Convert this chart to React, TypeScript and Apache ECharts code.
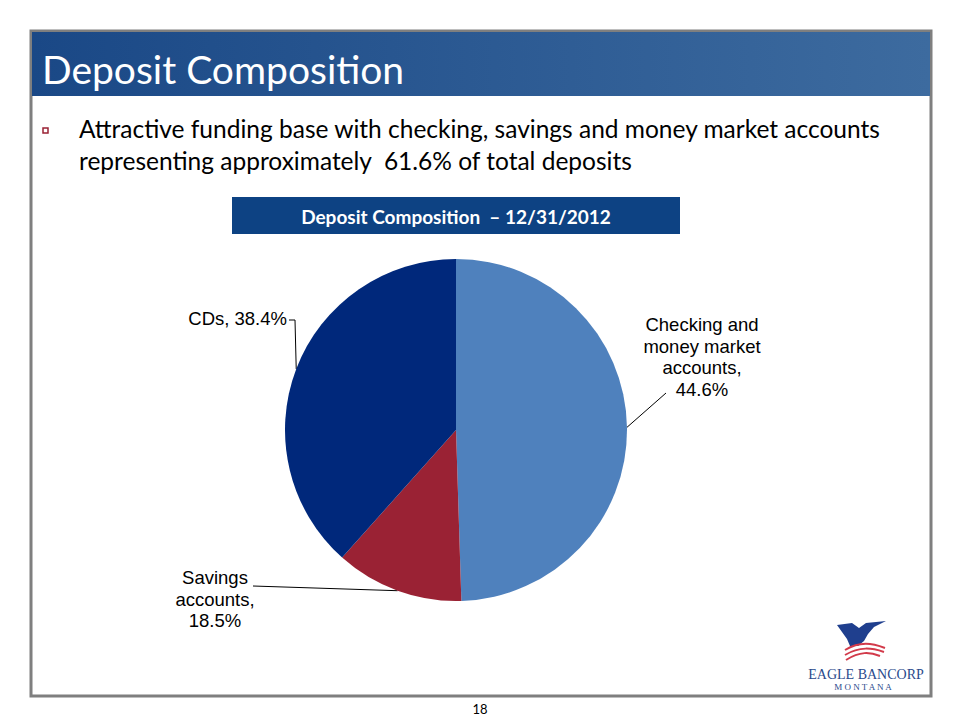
import React, { useEffect, useRef } from "react";
import * as echarts from "echarts";

const categories = ["Checking and money market accounts", "Savings accounts", "CDs"];
// slice sizes as drawn in the picture (share of the circle, %)
const sliceValues = [49.5, 12.1, 38.4];
// percentages printed on the labels
const labelPercents = ["44.6%", "18.5%", "38.4%"];
const labelTexts = [
  "Checking and\nmoney market\naccounts,\n" + labelPercents[0],
  "Savings\naccounts,\n" + labelPercents[1],
  "CDs, " + labelPercents[2],
];
const sliceColors = ["#4f81bd", "#9a2234", "#00287b"];

const titleText = "Deposit Composition";
const bulletLines = [
  "Attractive funding base with checking, savings and money market accounts",
  "representing approximately  61.6% of total deposits",
];
const chartTitle = "Deposit Composition  \u2013 12/31/2012";
const pageNumber = "18";

export default function App() {
  const ref = useRef<HTMLDivElement>(null);
  useEffect(() => {
    if (!ref.current) return;
    const chart = echarts.init(ref.current, null, { renderer: "svg" });
    const labelPos = [
      { x: 702, y: 357, align: "center", end: [[666, 393], [666, 393]] },
      { x: 215, y: 599, align: "center", end: [[253, 586], [253, 586]] },
      { x: 287, y: 318, align: "right", end: [[295, 320], [289, 320]] },
    ];
    chart.setOption({
      animation: false,
      graphic: [
        // outer frame
        { type: "rect", shape: { x: 31, y: 31, width: 900, height: 665 }, style: { fill: "#fff", stroke: "#7f7f7f", lineWidth: 3 }, z: -10 },
        // header band
        {
          type: "rect",
          shape: { x: 32, y: 32, width: 898, height: 64 },
          style: {
            fill: new echarts.graphic.LinearGradient(0, 0, 1, 0, [
              { offset: 0, color: "#1a4886" },
              { offset: 1, color: "#3d6b9f" },
            ]),
          },
          z: -5,
        },
        { type: "text", x: 42, y: 69, style: { text: titleText, fill: "#fff", font: "39px Lato", verticalAlign: "middle" } },
        // bullet
        { type: "rect", shape: { x: 43, y: 128, width: 5, height: 5 }, style: { fill: "#fff", stroke: "#9a2234", lineWidth: 1.5 } },
        { type: "text", x: 79, y: 128, style: { text: bulletLines[0], fill: "#000", font: "24.5px Lato", verticalAlign: "middle" } },
        { type: "text", x: 79, y: 160, style: { text: bulletLines[1], fill: "#000", font: "24.5px Lato", verticalAlign: "middle" } },
        // chart title box
        { type: "rect", shape: { x: 232, y: 197, width: 448, height: 37 }, style: { fill: "#0d4283" } },
        { type: "text", x: 456, y: 216, style: { text: chartTitle, fill: "#fff", font: "bold 19px Lato", align: "center", verticalAlign: "middle" } },
        // page number
        { type: "text", x: 480, y: 709, style: { text: pageNumber, fill: "#000", font: "13px Lato", align: "center", verticalAlign: "middle" } },
        // logo
        {
          type: "polygon",
          shape: {
            points: [[837, 625], [852, 623], [859, 628], [866, 623], [886, 621], [874, 627], [868, 634], [864, 641], [858, 646], [850, 646], [847, 639], [842, 632]],
          },
          style: { fill: "#1f3f8e" },
        },
        { type: "bezierCurve", shape: { x1: 845, y1: 650, x2: 885, y2: 648, cpx1: 860, cpy1: 641, cpx2: 872, cpy2: 643 }, style: { stroke: "#d23a4a", lineWidth: 2, fill: "none" } },
        { type: "bezierCurve", shape: { x1: 845, y1: 655, x2: 884, y2: 652, cpx1: 860, cpy1: 646, cpx2: 872, cpy2: 648 }, style: { stroke: "#d23a4a", lineWidth: 2, fill: "none" } },
        { type: "bezierCurve", shape: { x1: 846, y1: 660, x2: 880, y2: 656, cpx1: 860, cpy1: 651, cpx2: 870, cpy2: 652 }, style: { stroke: "#d23a4a", lineWidth: 2, fill: "none" } },
        { type: "text", x: 866, y: 674, style: { text: "EAGLE BANCORP", fill: "#2a4a8c", font: "14px 'Liberation Serif'", align: "center", verticalAlign: "middle" } },
        { type: "text", x: 863, y: 687, style: { text: "M O N T A N A", fill: "#2a4a8c", font: "9px 'Liberation Serif'", align: "center", verticalAlign: "middle" } },
      ],
      series: [
        {
          type: "pie",
          center: [456, 430],
          radius: 171,
          startAngle: 90,
          clockwise: true,
          silent: true,
          data: categories.map((c, i) => ({ name: c, value: sliceValues[i], itemStyle: { color: sliceColors[i] } })),
          label: {
            show: true,
            position: "outside",
            formatter: (p: any) => labelTexts[p.dataIndex],
            fontFamily: "Liberation Sans",
            fontSize: 18.5,
            lineHeight: 21.5,
            color: "#000",
          },
          labelLine: { show: true, lineStyle: { color: "#000", width: 1 } },
          labelLayout: (params: any) => {
            const lp = labelPos[params.dataIndex];
            const start = params.labelLinePoints ? params.labelLinePoints[0] : lp.end[0];
            return {
              x: lp.x,
              y: lp.y,
              align: lp.align,
              verticalAlign: "middle",
              labelLinePoints: [start, lp.end[0], lp.end[1]],
            };
          },
        },
      ],
    });
    return () => chart.dispose();
  }, []);
  return <div ref={ref} style={{ position: "absolute", left: 0, top: 0, width: 960, height: 720 }} />;
}
